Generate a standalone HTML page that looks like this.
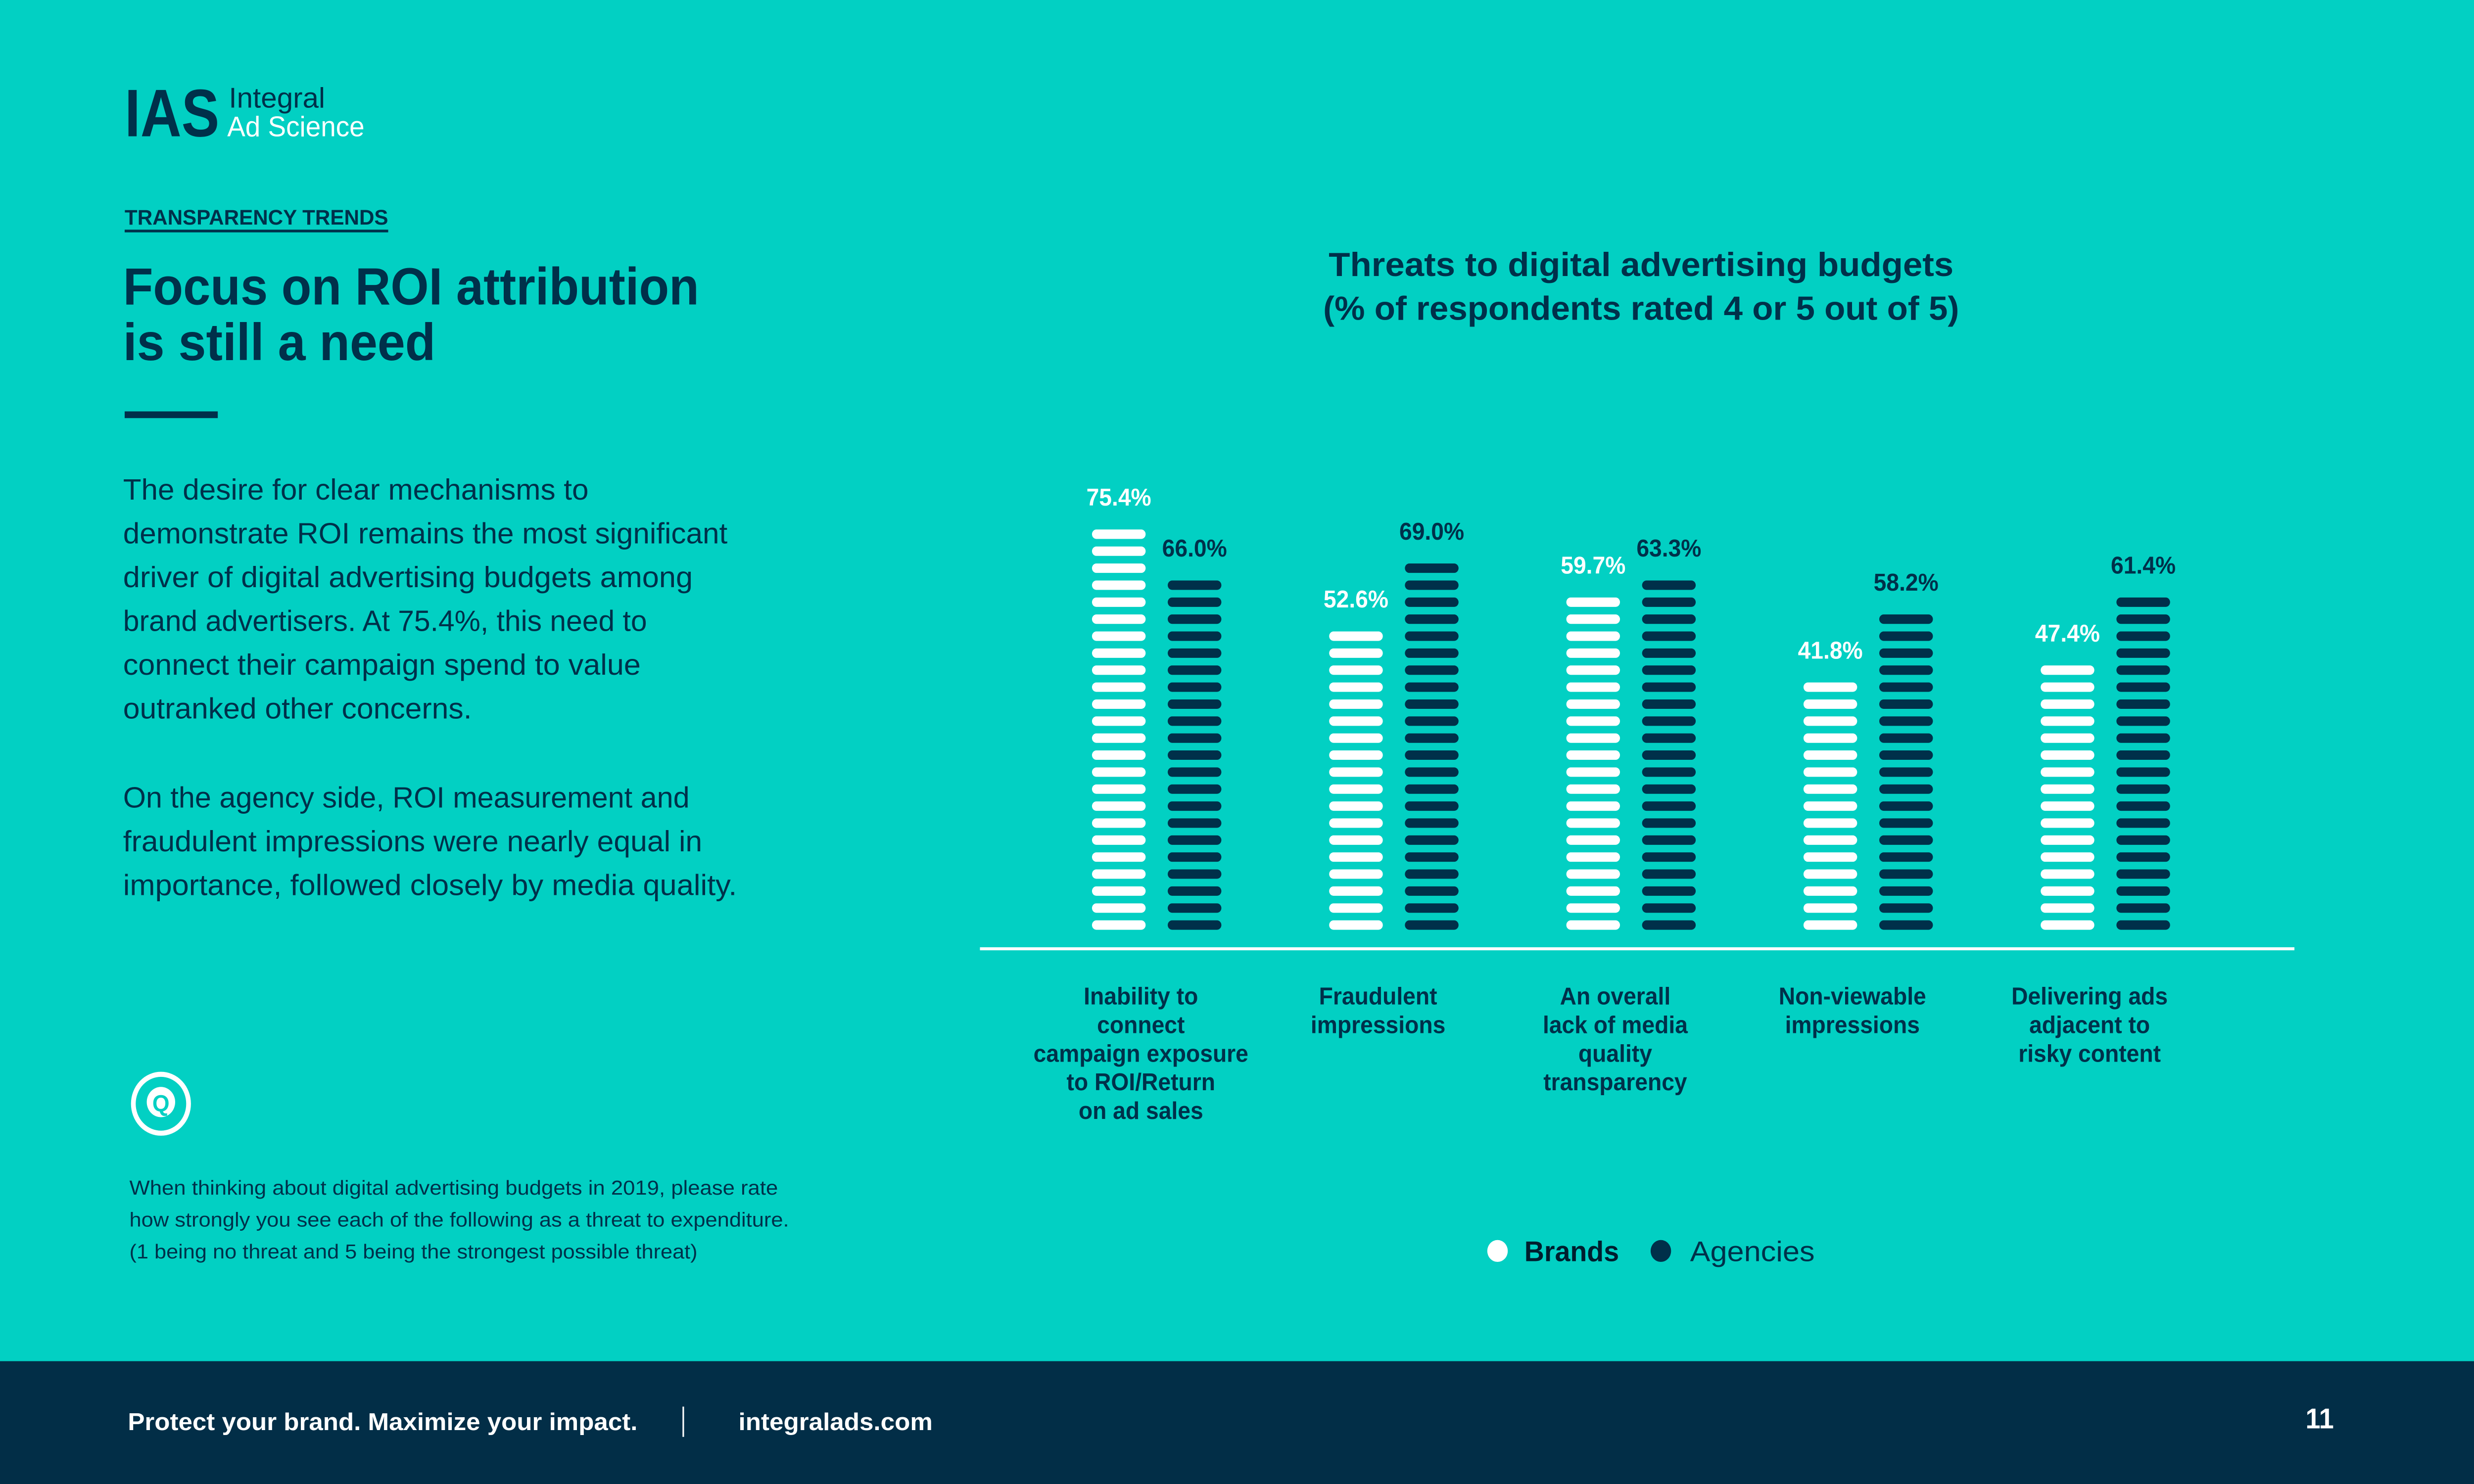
<!DOCTYPE html>
<html><head><meta charset="utf-8"><style>
html,body{margin:0;padding:0;background:#02d0c3;width:5001px;height:3000px;overflow:hidden;}
svg{display:block;position:absolute;left:0;top:0;}
text{font-family:"Liberation Sans",sans-serif;}
</style></head><body>
<svg id="page" width="5001" height="3000" style="width:5001px;height:3000px" xmlns="http://www.w3.org/2000/svg">
<g transform="scale(3.18918 3.40136)">
<rect x="0" y="0" width="1568" height="882" fill="#02d0c3"/>
<g>
<text x="79" y="81" font-size="40" font-weight="bold" fill="#00304a" textLength="60" lengthAdjust="spacingAndGlyphs">IAS</text>
<text x="145" y="64" font-size="17" fill="#00304a" textLength="61" lengthAdjust="spacingAndGlyphs">Integral</text>
<text x="144" y="81" font-size="17" fill="#fff" textLength="87" lengthAdjust="spacingAndGlyphs">Ad Science</text>
</g>
<text x="79" y="133.5" font-size="12.5" font-weight="bold" fill="#00304a" textLength="167" lengthAdjust="spacingAndGlyphs">TRANSPARENCY TRENDS</text>
<rect x="79" y="136.5" width="167" height="1.6" fill="#00304a"/>
<g font-size="31" font-weight="bold" fill="#00304a">
<text x="78" y="181" textLength="365" lengthAdjust="spacingAndGlyphs">Focus on ROI attribution</text>
<text x="78" y="214" textLength="198" lengthAdjust="spacingAndGlyphs">is still a need</text>
</g>
<rect x="79" y="244.5" width="59" height="4" fill="#00304a"/>
<g font-size="17.5" fill="#00304a">
<text x="78" y="297" textLength="295" lengthAdjust="spacingAndGlyphs">The desire for clear mechanisms to</text>
<text x="78" y="323" textLength="383" lengthAdjust="spacingAndGlyphs">demonstrate ROI remains the most significant</text>
<text x="78" y="349" textLength="361" lengthAdjust="spacingAndGlyphs">driver of digital advertising budgets among</text>
<text x="78" y="375" textLength="332" lengthAdjust="spacingAndGlyphs">brand advertisers. At 75.4%, this need to</text>
<text x="78" y="401" textLength="328" lengthAdjust="spacingAndGlyphs">connect their campaign spend to value</text>
<text x="78" y="427" textLength="221" lengthAdjust="spacingAndGlyphs">outranked other concerns.</text>
<text x="78" y="480" textLength="359" lengthAdjust="spacingAndGlyphs">On the agency side, ROI measurement and</text>
<text x="78" y="506" textLength="367" lengthAdjust="spacingAndGlyphs">fraudulent impressions were nearly equal in</text>
<text x="78" y="532" textLength="389" lengthAdjust="spacingAndGlyphs">importance, followed closely by media quality.</text>
</g>
<g>
<circle cx="102" cy="656" r="17.5" fill="none" stroke="#fff" stroke-width="3"/>
<circle cx="102" cy="655" r="9" fill="#fff"/>
<text x="102" y="660.5" font-size="14" font-weight="bold" fill="#02d0c3" text-anchor="middle">Q</text>
</g>
<g font-size="12" fill="#00304a">
<text x="82" y="710" textLength="411" lengthAdjust="spacingAndGlyphs">When thinking about digital advertising budgets in 2019, please rate</text>
<text x="82" y="729" textLength="418" lengthAdjust="spacingAndGlyphs">how strongly you see each of the following as a threat to expenditure.</text>
<text x="82" y="748" textLength="360" lengthAdjust="spacingAndGlyphs">(1 being no threat and 5 being the strongest possible threat)</text>
</g>
<g font-size="20" font-weight="bold" fill="#00304a" text-anchor="middle">
<text x="1040" y="164" textLength="396" lengthAdjust="spacingAndGlyphs">Threats to digital advertising budgets</text>
<text x="1040" y="190" textLength="403" lengthAdjust="spacingAndGlyphs">(% of respondents rated 4 or 5 out of 5)</text>
</g>
<g id="chart"></g>
<g>
<g>
<circle cx="949" cy="743.5" r="6.5" fill="#fff"/>
<text x="966" y="749.5" font-size="17" font-weight="bold" fill="#001e2e" textLength="60" lengthAdjust="spacingAndGlyphs">Brands</text>
</g>
<g>
<circle cx="1052.5" cy="743.5" r="6.5" fill="#00304a"/>
<text x="1071" y="749.5" font-size="17" fill="#00304a" textLength="79" lengthAdjust="spacingAndGlyphs">Agencies</text>
</g>
</g>
<g>
<rect x="0" y="809" width="1568" height="80" fill="#022e47"/>
<text x="81" y="850" font-size="14.5" font-weight="bold" fill="#fff" textLength="323" lengthAdjust="spacingAndGlyphs">Protect your brand. Maximize your impact.</text>
<rect x="432.5" y="836" width="1" height="18" fill="#fff"/>
<text x="468" y="850" font-size="14.5" font-weight="bold" fill="#fff" textLength="123" lengthAdjust="spacingAndGlyphs">integralads.com</text>
<text x="1479" y="849" font-size="17" font-weight="bold" fill="#fff" text-anchor="end">11</text>
</g>
</g>
</svg>
<script>
const categories = [
  ["Inability to","connect","campaign exposure","to ROI/Return","on ad sales"],
  ["Fraudulent","impressions"],
  ["An overall","lack of media","quality","transparency"],
  ["Non-viewable","impressions"],
  ["Delivering ads","adjacent to","risky content"]
];
const brandValues = [75.4, 52.6, 59.7, 41.8, 47.4];
const agencyValues = [66.0, 69.0, 63.3, 58.2, 61.4];
const valueLabels = ["75.4%","52.6%","59.7%","41.8%","47.4%"];
const agencyLabels = ["66.0%","69.0%","63.3%","58.2%","61.4%"];

const NS = "http://www.w3.org/2000/svg";
const chart = document.getElementById("chart");
const groupX = i => 692 + i * 150.3;
const bottomCenter = 549.8, pitch = 10.1, segH = 5.6, barW = 34;
const segCount = v => Math.max(1, Math.round(v * 0.28 + 3));
function mk(tag, attrs) { const e = document.createElementNS(NS, tag); for (const k in attrs) e.setAttribute(k, attrs[k]); return e; }

function drawBar(x, v, color, label, labelColor, name) {
  const g = mk("g", {});
  
  
  const n = segCount(v);
  for (let s = 0; s < n; s++) {
    const cy = bottomCenter - s * pitch;
    const r = mk("rect", {x: x, y: cy - segH / 2, width: barW, height: segH, rx: segH / 2, fill: color});
    
    
    g.appendChild(r);
  }
  const top = bottomCenter - (n - 1) * pitch;
  const t = mk("text", {x: x + barW / 2, y: top - 17, "font-size": 14.5, "font-weight": "bold", fill: labelColor, "text-anchor": "middle"});
  t.textContent = label;
  
  
  g.appendChild(t);
  chart.appendChild(g);
}

categories.forEach((lines, i) => {
  const x = groupX(i);
  drawBar(x, brandValues[i], "#ffffff", valueLabels[i], "#ffffff", "bar-brands-" + (i + 1));
  drawBar(x + 48, agencyValues[i], "#00304a", agencyLabels[i], "#00304a", "bar-agencies-" + (i + 1));
  const cx = x + 31;
  const tg = mk("g", {});
  
  
  lines.forEach((ln, j) => {
    const t = mk("text", {x: cx, y: 597 + j * 17, "font-size": 14.5, "font-weight": "bold", fill: "#00304a", "text-anchor": "middle"});
    t.textContent = ln;
    tg.appendChild(t);
  });
  chart.appendChild(tg);
});
const axis = mk("rect", {x: 621, y: 563, width: 833, height: 1.8, fill: "#ffffff"});


chart.appendChild(axis);
</script>
</body></html>
